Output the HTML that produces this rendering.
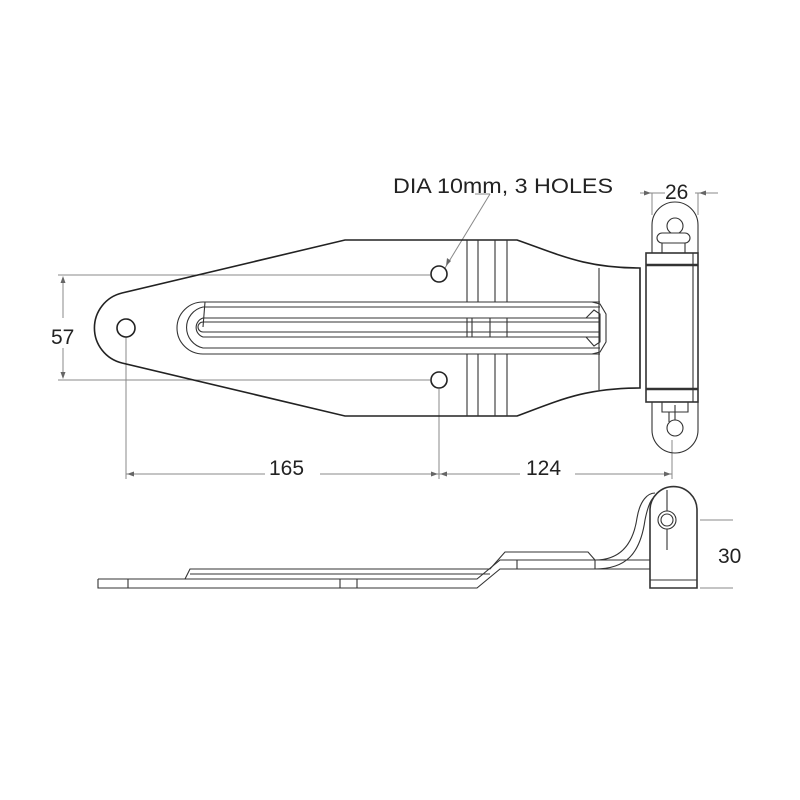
<!DOCTYPE html>
<html><head><style>html,body{margin:0;padding:0;background:#fff}svg{display:block}</style></head>
<body>
<svg width="800" height="800" viewBox="0 0 800 800" xmlns="http://www.w3.org/2000/svg" font-family="'Liberation Sans', sans-serif">
<g fill="none" stroke="#888" stroke-width="1">
  <line x1="58" y1="275" x2="430" y2="275"/>
  <line x1="58" y1="380" x2="430" y2="380"/>
  <line x1="63" y1="278" x2="63" y2="318"/>
  <line x1="63" y1="348" x2="63" y2="377"/>
  <line x1="126" y1="337" x2="126" y2="479"/>
  <line x1="439" y1="389" x2="439" y2="479"/>
  <line x1="672" y1="440" x2="672" y2="479"/>
  <line x1="126" y1="474" x2="265" y2="474"/>
  <line x1="320" y1="474" x2="520" y2="474"/>
  <line x1="575" y1="474" x2="672" y2="474"/>
  <line x1="475" y1="194" x2="490" y2="194"/>
  <line x1="490" y1="194" x2="445" y2="268"/>
  <line x1="640" y1="193" x2="665" y2="193"/>
  <line x1="695" y1="193" x2="718" y2="193"/>
  <line x1="652" y1="193" x2="652" y2="215"/>
  <line x1="698" y1="193" x2="698" y2="215"/>
  <line x1="700" y1="520" x2="733" y2="520"/>
  <line x1="700" y1="588" x2="733" y2="588"/>
</g>
<g fill="#666">
  <path d="M63 276 l-2.5 7 h5z"/><path d="M63 379 l-2.5 -7 h5z"/>
  <path d="M127 474 l7 -2.5 v5z"/><path d="M438 474 l-7 -2.5 v5z"/>
  <path d="M440 474 l7 -2.5 v5z"/><path d="M671 474 l-7 -2.5 v5z"/>
  <path d="M651 193 l-7 -2.5 v5z"/><path d="M699 193 l7 -2.5 v5z"/>
  <path d="M446 266 l1 -8 l4 3z"/>
</g>
<g fill="none" stroke="#222" stroke-width="1.6">
  <path d="M122 293 L345 240 L517 240 C560 255 585 268 640 268 L640 388 C585 388 560 400 517 416 L345 416 L122 363 A36 36 0 0 1 122 293 Z"/>
  <circle cx="126" cy="328" r="9"/>
  <circle cx="439" cy="274" r="8"/>
  <circle cx="439" cy="380" r="8"/>
</g>
<g fill="none" stroke="#333" stroke-width="1.1">
  <path d="M600 302 L203 302 A26 26 0 0 0 203 354 L600 354"/>
  <path d="M600 307 L203 307 A21 21 0 0 0 203 348 L600 348"/>
  <path d="M600 318 L203 318 A10 10 0 0 0 203 337 L600 337"/>
  <path d="M600 322 L203 322 A5 5 0 0 0 203 332 L600 332"/>
  <line x1="205" y1="302" x2="203" y2="327"/>
  <path d="M592 302 L600 304 L606 314 L606 342 L600 352 L592 354"/>
  <path d="M586 318 L594 310 L600 314 L600 342 L594 346 L586 337"/>
  <line x1="599" y1="268" x2="599" y2="390"/>
  <line x1="467" y1="240" x2="467" y2="302"/><line x1="478" y1="240" x2="478" y2="302"/>
  <line x1="495" y1="240" x2="495" y2="302"/><line x1="507" y1="240" x2="507" y2="302"/>
  <line x1="467" y1="354" x2="467" y2="416"/><line x1="478" y1="354" x2="478" y2="416"/>
  <line x1="495" y1="354" x2="495" y2="416"/><line x1="507" y1="354" x2="507" y2="416"/>
  <line x1="467" y1="318" x2="467" y2="337"/><line x1="472" y1="318" x2="472" y2="337"/>
  <line x1="490" y1="318" x2="490" y2="337"/><line x1="507" y1="318" x2="507" y2="337"/>
  <path d="M652 253 L652 225 A23 23 0 0 1 698 225 L698 253"/>
  <path d="M652 402 L652 430 A23 23 0 0 0 698 430 L698 402"/>
  <circle cx="675" cy="226" r="8" fill="#fff"/>
  <rect x="657" y="233" width="33" height="10" rx="5" fill="#fff"/>
  <line x1="662" y1="243" x2="662" y2="253"/><line x1="685" y1="243" x2="685" y2="253"/>
  <circle cx="675" cy="428" r="8"/>
  <path d="M662 402 L662 412 L688 412 L688 402"/>
  <line x1="669" y1="412" x2="669" y2="422"/><line x1="675" y1="405" x2="675" y2="420"/>
  <rect x="646" y="253" width="52" height="149" fill="#fff" stroke-width="1.6"/>
  <line x1="646" y1="265" x2="698" y2="265" stroke-width="2.5"/>
  <line x1="646" y1="389" x2="698" y2="389" stroke-width="2.5"/>
  <line x1="693" y1="253" x2="693" y2="402"/>
  <path d="M98 579 L477 579 L500 560 L655 560"/>
  <path d="M98 579 L98 588 L477 588 L500 569 L655 569"/>
  <path d="M185 579 L190 569 L490 569 L505 552 L588 552 L595 560"/>
  <path d="M190 574 L490 574"/>
  <line x1="128" y1="579" x2="128" y2="588"/>
  <line x1="340" y1="579" x2="340" y2="588"/>
  <line x1="357" y1="579" x2="357" y2="588"/>
  <line x1="517" y1="560" x2="517" y2="569"/>
  <line x1="595" y1="560" x2="595" y2="569"/>
  <path d="M595 569 C625 569 640 555 645 520 C648 505 652 497 655 497"/>
  <path d="M595 560 C620 560 633 545 637 518 C640 500 648 493 655 493"/>
  <path d="M650 588 L650 510 A23 23 0 0 1 697 510 L697 588 Z" fill="#fff" stroke-width="1.6"/>
  <line x1="650" y1="580" x2="697" y2="580"/>
  <circle cx="667" cy="520" r="9"/>
  <circle cx="667" cy="520" r="6"/>
  <line x1="667" y1="490" x2="667" y2="511"/>
  <line x1="667" y1="529" x2="667" y2="550"/>
</g>
<g fill="#222" font-size="21">
  <text x="393" y="193" textLength="220" lengthAdjust="spacingAndGlyphs">DIA 10mm, 3 HOLES</text>
  <text x="665" y="199">26</text>
  <text x="51" y="344">57</text>
  <text x="269" y="475">165</text>
  <text x="526" y="475">124</text>
  <text x="718" y="563">30</text>
</g>
</svg>
</body></html>
